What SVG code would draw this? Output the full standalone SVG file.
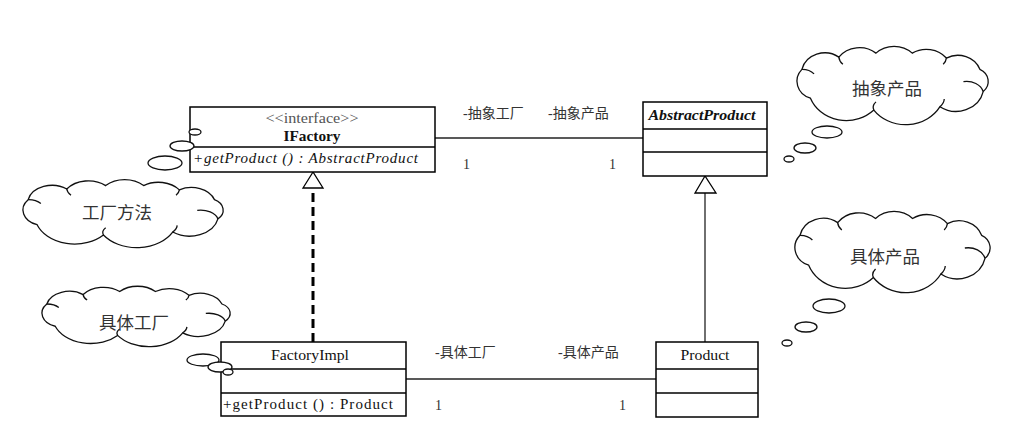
<svg xmlns="http://www.w3.org/2000/svg" xmlns:xlink="http://www.w3.org/1999/xlink" width="1036" height="442" viewBox="0 0 1036 442">
<style>
.box{fill:#fff;stroke:#000;stroke-width:1.5}
.div{stroke:#000;stroke-width:1.3}
.lat{font-family:"Liberation Serif","Noto Sans CJK SC",serif;font-size:15px;fill:#111}
.cjk{font-family:"Liberation Serif","Noto Sans CJK SC",sans-serif;font-size:14px;fill:#333}
.ctext{font-family:"Noto Sans CJK SC",sans-serif;font-size:17.5px;fill:#333;text-anchor:middle}
.assoc{stroke:#222;stroke-width:1.3;fill:none}
.bub{fill:#fff;stroke:#111;stroke-width:1.3}
.tri{fill:#fff;stroke:#000;stroke-width:1.3}
</style>
<defs>
<g id="cloud">
<path vector-effect="non-scaling-stroke" fill="#fff" stroke="#111" stroke-width="1.3" d="M24.6,57.2 A18.6,18.6 0 0 1 16.6,27.3 A22,22 0 0 1 51.2,14.6 A24,24 0 0 1 86,10.5 A24,24 0 0 1 120,10.5 A24,24 0 0 1 152,15.6 A22,22 0 0 1 183.4,27.3 A14,14 0 0 1 186.5,50.3 A26,26 0 0 1 146,66 A37,37 0 0 1 84,69.5 A36,36 0 0 1 24.6,57.2 Z"/>
<path vector-effect="non-scaling-stroke" fill="none" stroke="#111" stroke-width="1.3" d="M16.6,27.3 A14,12 0 0 1 28,32 M51.2,14.6 A14,12 0 0 0 55,22 M152,15.6 A14,12 0 0 1 149,22 M186.5,50.3 A16,14 0 0 0 168,40 M84,69.5 A30,14 0 0 1 86,61 M146,66 A20,14 0 0 0 150,58"/>
</g>
</defs>

<g id="connectors">
<line class="assoc" x1="435" y1="138" x2="643" y2="138"/>
<line class="assoc" x1="406" y1="379" x2="656" y2="379"/>
<line x1="313" y1="342" x2="313" y2="188" stroke="#000" stroke-width="3" stroke-dasharray="9 5"/>
<polygon class="tri" points="313,172 303,188 323,188"/>
<line x1="705" y1="342" x2="705" y2="193" stroke="#222" stroke-width="1.3"/>
<polygon class="tri" points="705,176 695,193 716,193"/>
<text class="cjk" x="463" y="118">-抽象工厂</text>
<text class="cjk" x="548" y="118">-抽象产品</text>
<text class="cjk" x="463" y="169">1</text>
<text class="cjk" x="609" y="169">1</text>
<text class="cjk" x="435" y="357">-具体工厂</text>
<text class="cjk" x="558" y="357">-具体产品</text>
<text class="cjk" x="435" y="410">1</text>
<text class="cjk" x="619" y="410">1</text>
</g>

<g id="IFactory">
<rect class="box" x="190" y="107" width="245" height="65"/>
<line class="div" x1="190" y1="147" x2="435" y2="147"/>
<text class="lat" x="312" y="123" text-anchor="middle" style="fill:#555" textLength="93" lengthAdjust="spacingAndGlyphs">&lt;&lt;interface&gt;&gt;</text>
<text class="lat" x="312" y="141" text-anchor="middle" font-weight="bold" textLength="57" lengthAdjust="spacingAndGlyphs">IFactory</text>
<text class="lat" x="193" y="163" font-style="italic" textLength="225" lengthAdjust="spacing">+getProduct () : AbstractProduct</text>
</g>

<g id="AbstractProduct">
<rect class="box" x="643" y="102" width="124" height="74"/>
<line class="div" x1="643" y1="129" x2="767" y2="129"/>
<line class="div" x1="643" y1="152" x2="767" y2="152"/>
<text class="lat" x="702" y="120" text-anchor="middle" font-weight="bold" font-style="italic" textLength="107" lengthAdjust="spacingAndGlyphs">AbstractProduct</text>
</g>

<g id="FactoryImpl">
<rect class="box" x="221" y="342" width="185" height="74"/>
<line class="div" x1="221" y1="369" x2="406" y2="369"/>
<line class="div" x1="221" y1="393" x2="406" y2="393"/>
<text class="lat" x="310" y="360" text-anchor="middle" textLength="78" lengthAdjust="spacingAndGlyphs">FactoryImpl</text>
<text class="lat" x="223" y="409" textLength="170" lengthAdjust="spacing">+getProduct () : Product</text>
</g>

<g id="Product">
<rect class="box" x="656" y="342" width="102" height="75"/>
<line class="div" x1="656" y1="369" x2="758" y2="369"/>
<line class="div" x1="656" y1="393" x2="758" y2="393"/>
<text class="lat" x="705" y="360" text-anchor="middle" textLength="49" lengthAdjust="spacingAndGlyphs">Product</text>
</g>

<g id="cloud-factory-method">
<use xlink:href="#cloud" transform="translate(9.6,176.8) scale(1.117,0.837)"/>
<text class="ctext" x="117" y="219">工厂方法</text>
<ellipse class="bub" cx="195" cy="132" rx="6" ry="3"/>
<ellipse class="bub" cx="182" cy="146" rx="12" ry="5"/>
<ellipse class="bub" cx="165" cy="163" rx="17" ry="7"/>
</g>

<g id="cloud-concrete-factory">
<use xlink:href="#cloud" transform="translate(29.4,283.7) scale(1.05,0.744)"/>
<text class="ctext" x="134" y="329">具体工厂</text>
<ellipse class="bub" cx="203" cy="360" rx="16" ry="6"/>
<ellipse class="bub" cx="220" cy="367" rx="12" ry="5"/>
<ellipse class="bub" cx="228" cy="372" rx="5" ry="3"/>
</g>

<g id="cloud-abstract-product">
<use xlink:href="#cloud" transform="translate(784.2,43) scale(1.067,0.965)"/>
<text class="ctext" x="887" y="95">抽象产品</text>
<ellipse class="bub" cx="827" cy="132" rx="15" ry="6"/>
<ellipse class="bub" cx="805" cy="148" rx="11" ry="5"/>
<ellipse class="bub" cx="789" cy="159" rx="5" ry="3"/>
</g>

<g id="cloud-concrete-product">
<use xlink:href="#cloud" transform="translate(781.9,208) scale(1.089,1.0)"/>
<text class="ctext" x="885" y="263">具体产品</text>
<ellipse class="bub" cx="829" cy="306" rx="16" ry="7"/>
<ellipse class="bub" cx="806" cy="327" rx="11" ry="5"/>
<ellipse class="bub" cx="787" cy="343" rx="5" ry="3"/>
</g>
</svg>
